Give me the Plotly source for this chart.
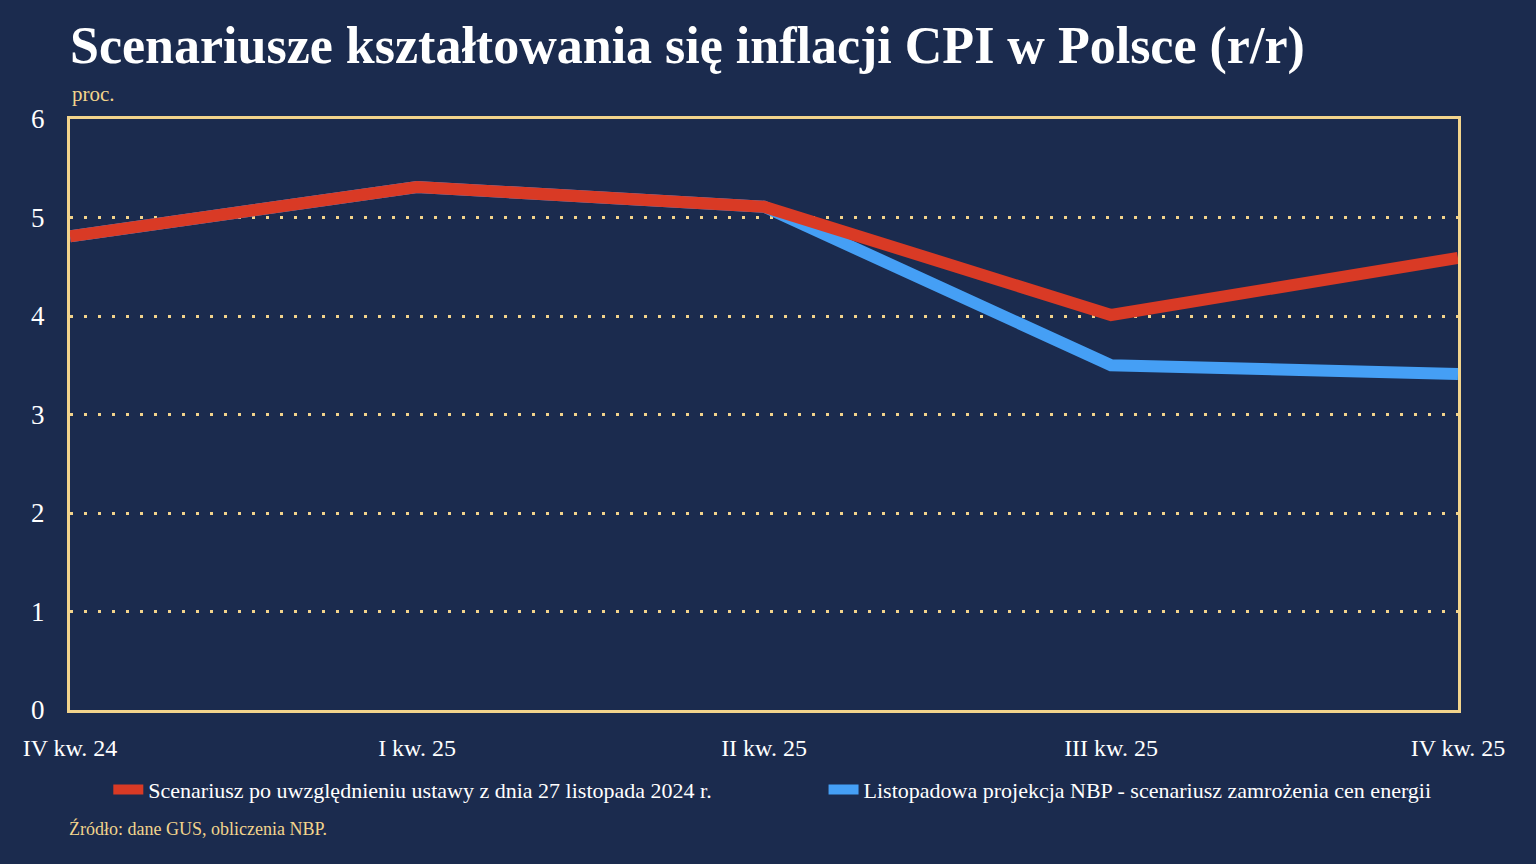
import plotly.graph_objects as go

categories = ["IV kw. 24", "I kw. 25", "II kw. 25", "III kw. 25", "IV kw. 25"]
scenario_law = [4.81, 5.31, 5.11, 4.01, 4.59]
scenario_nbp = [4.81, 5.31, 5.11, 3.50, 3.41]
name_law = "Scenariusz po uwzględnieniu ustawy z dnia 27 listopada 2024 r."
name_nbp = "Listopadowa projekcja NBP - scenariusz zamrożenia cen energii"
y_ticks = [0, 1, 2, 3, 4, 5, 6]

BG = "#1b2b4e"
GOLD = "#f2d48c"
RED = "#d93a25"
BLUE = "#459ff5"
FONT = "Liberation Serif"

fig = go.Figure()
fig.add_trace(go.Scatter(x=categories, y=scenario_nbp, mode="lines", name=name_nbp,
                         line=dict(color=BLUE, width=12), legend="legend2"))
fig.add_trace(go.Scatter(x=categories, y=scenario_law, mode="lines", name=name_law,
                         line=dict(color=RED, width=12), legend="legend"))

legend_common = dict(orientation="h", xanchor="left", y=-0.135, yanchor="middle",
                     font=dict(size=22, color="white", family=FONT),
                     bgcolor="rgba(0,0,0,0)")

fig.update_layout(
    width=1536, height=864,
    paper_bgcolor=BG, plot_bgcolor=BG,
    margin=dict(l=70, r=78, t=119, b=154),
    font=dict(family=FONT, color="white"),
    title=dict(text="<b>Scenariusze kształtowania się inflacji CPI w Polsce (r/r)</b>",
               x=0, xref="paper", xanchor="left", y=0.948, yanchor="middle",
               font=dict(size=52, color="white", family=FONT)),
    showlegend=True,
    legend=dict(x=0.0276, **legend_common),
    legend2=dict(x=0.5429, **legend_common),
    xaxis=dict(type="category", categoryorder="array", categoryarray=categories,
               range=[0, 4], showgrid=False, zeroline=False,
               showline=True, mirror=True, linecolor=GOLD, linewidth=3,
               ticks="", tickfont=dict(size=24, color="white", family=FONT),
               ticklabelstandoff=14),
    yaxis=dict(range=[0, 6], tickvals=y_ticks, showgrid=True, gridcolor=GOLD,
               gridwidth=3, griddash="3px,11px", zeroline=False,
               showline=True, mirror=True, linecolor=GOLD, linewidth=3,
               ticks="", tickfont=dict(size=27, color="white", family=FONT),
               ticklabelstandoff=17),
    annotations=[
        dict(text="proc.", xref="paper", yref="paper", x=0, y=1.0, yshift=25,
             xanchor="left", yanchor="middle", showarrow=False,
             font=dict(size=21, color=GOLD, family=FONT)),
        dict(text="Źródło: dane GUS, obliczenia NBP.", xref="paper", yref="paper",
             x=0, xshift=-3, y=0, yshift=-118, xanchor="left", yanchor="middle",
             showarrow=False, font=dict(size=18, color=GOLD, family=FONT)),
    ],
)

fig.write_html("out.html", config={"displayModeBar": False},
               post_script="document.body.style.margin='0';document.body.style.background='%s';" % BG)
